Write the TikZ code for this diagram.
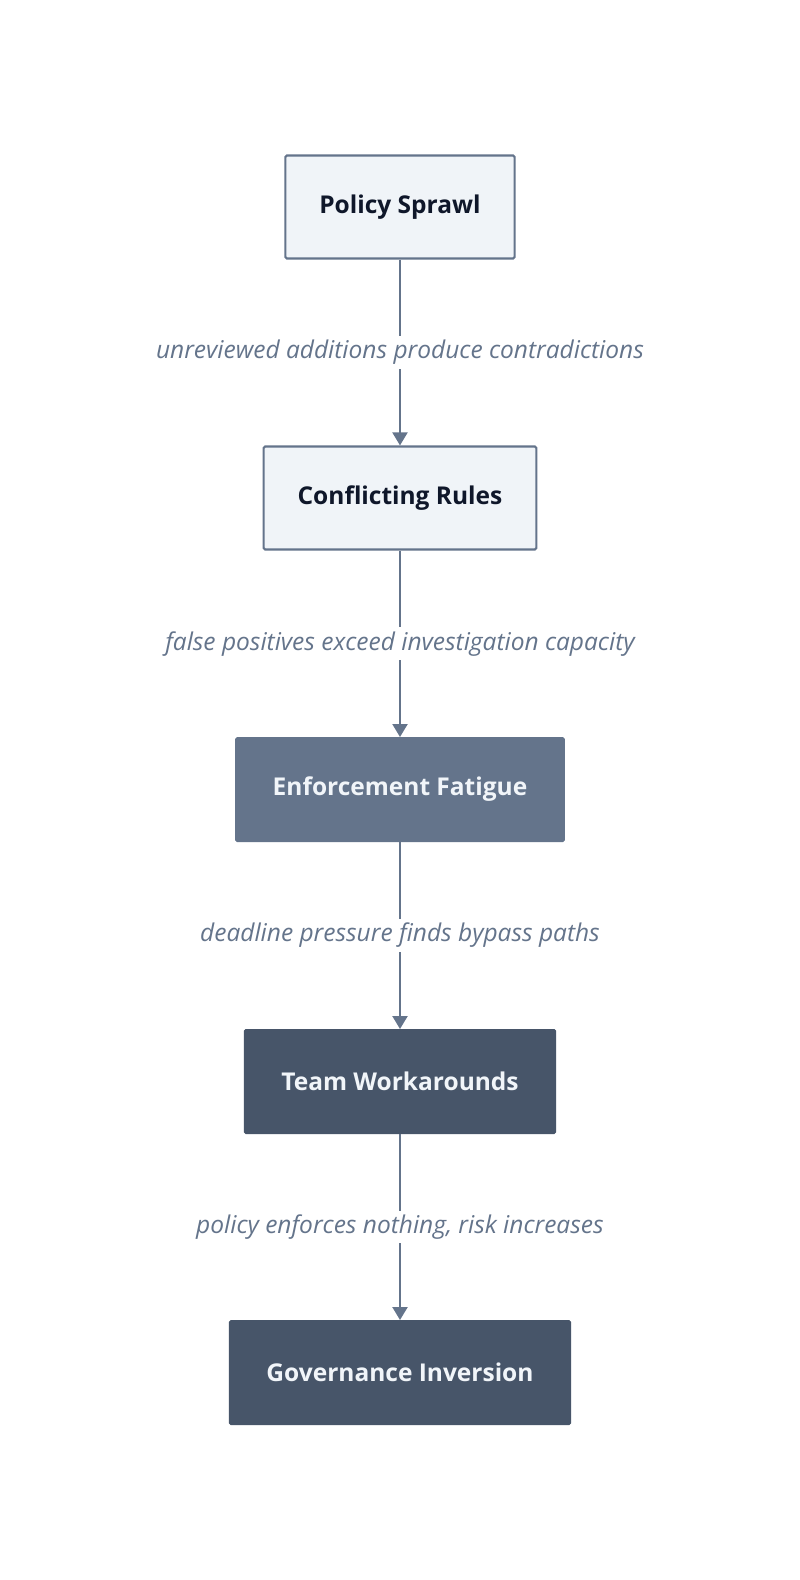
\documentclass[tikz,border=0pt]{standalone}
\usepackage{fontspec}
\setmainfont{Open Sans}
\usepackage{tikz}
\usetikzlibrary{arrows.meta, positioning}
\definecolor{slateline}{HTML}{64748B}
\definecolor{slatelight}{HTML}{F0F4F8}
\definecolor{slatemid}{HTML}{64748B}
\definecolor{slatedark}{HTML}{475569}
\definecolor{inkdark}{HTML}{0F172A}
\definecolor{inklight}{HTML}{F1F5F9}
\tikzset{
  lightbox/.style={
    draw=slateline, rectangle, rounded corners=1.5pt, fill=slatelight,
    line width=2.2pt, minimum height=103pt, inner xsep=34pt,
    text=inkdark, font=\fontsize{24.5}{29}\selectfont\bfseries
  },
  darkbox/.style={
    draw=#1, rectangle, rounded corners=1.5pt, fill=#1,
    line width=1pt, minimum height=104pt, inner xsep=37pt,
    text=inklight, font=\fontsize{24.5}{29}\selectfont\bfseries
  },
  arrow/.style={
    -{Triangle[length=13pt, width=15pt]}, draw=slateline, line width=2.2pt
  },
  edgelabel/.style={
    fill=white, text=slateline, inner sep=4pt,
    font=\fontsize{24.5}{29}\selectfont\itshape
  }
}
\begin{document}
\begin{tikzpicture}[x=1pt, y=-1pt]
        \fill[white] (0,0) rectangle (800,1580);
        \useasboundingbox (0,0) rectangle (800,1580);

        \node[lightbox] (sprawl) at (400,207) {Policy Sprawl};
        \node[lightbox] (conflict) at (400,498) {Conflicting Rules};
        \node[darkbox=slatemid] (fatigue) at (400,789.5) {Enforcement Fatigue};
        \node[darkbox=slatedark] (workaround) at (400,1081.5) {Team Workarounds};
        \node[darkbox=slatedark] (inversion) at (400,1372.5) {Governance Inversion};

        \draw[arrow] (sprawl) -- node[edgelabel] {unreviewed additions produce contradictions} (conflict);
        \draw[arrow] (conflict) -- node[edgelabel] {false positives exceed investigation capacity} (fatigue);
        \draw[arrow] (fatigue) -- node[edgelabel] {deadline pressure finds bypass paths} (workaround);
        \draw[arrow] (workaround) -- node[edgelabel] {policy enforces nothing, risk increases} (inversion);
      \end{tikzpicture}
\end{document}
